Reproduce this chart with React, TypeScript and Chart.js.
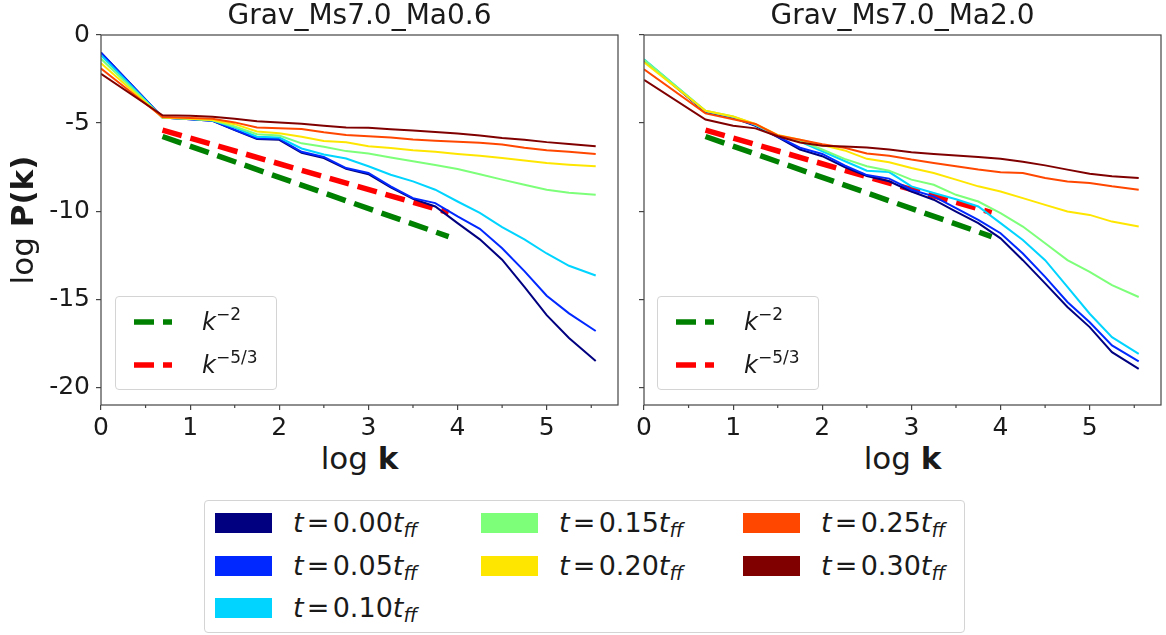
import React, { useEffect, useRef } from "react";
import { Chart, registerables } from "chart.js";

Chart.register(...registerables);

// ---------- data ----------
const LOG_K = [0, 0.69, 1.0, 1.25, 1.5, 1.75, 2.0, 2.25, 2.5, 2.75, 3.0, 3.25, 3.5, 3.75, 4.0, 4.25, 4.5, 4.75, 5.0, 5.25, 5.55];

const TIMES = ["0.00", "0.05", "0.10", "0.15", "0.20", "0.25", "0.30"];
const COLORS = ["#000080", "#0028ff", "#00d4ff", "#7dff7a", "#ffe600", "#ff4700", "#800000"];

// Grav_Ms7.0_Ma0.6
const MA06_T000 = [-1.0, -4.68, -4.78, -4.87, -5.4, -5.9, -5.95, -6.68, -6.98, -7.6, -7.9, -8.65, -9.3, -9.73, -10.68, -11.6, -12.75, -14.3, -15.9, -17.2, -18.5];
const MA06_T005 = [-1.0, -4.68, -4.78, -4.86, -5.38, -5.86, -5.9, -6.63, -6.92, -7.55, -7.83, -8.59, -9.26, -9.54, -10.3, -11.0, -12.1, -13.4, -14.8, -15.8, -16.8];
const MA06_T010 = [-1.15, -4.68, -4.77, -4.85, -5.25, -5.77, -5.82, -6.44, -6.78, -7.01, -7.45, -7.93, -8.31, -8.78, -9.45, -10.1, -10.9, -11.6, -12.4, -13.1, -13.65];
const MA06_T015 = [-1.35, -4.68, -4.76, -4.84, -5.19, -5.63, -5.71, -6.15, -6.34, -6.59, -6.73, -6.95, -7.17, -7.38, -7.6, -7.9, -8.21, -8.5, -8.78, -8.95, -9.07];
const MA06_T020 = [-1.6, -4.68, -4.75, -4.82, -5.06, -5.48, -5.57, -5.77, -6.02, -6.09, -6.31, -6.42, -6.54, -6.63, -6.75, -6.85, -6.98, -7.12, -7.26, -7.36, -7.45];
const MA06_T025 = [-1.9, -4.66, -4.71, -4.75, -4.96, -5.25, -5.29, -5.33, -5.52, -5.67, -5.74, -5.82, -5.93, -6.0, -6.06, -6.12, -6.22, -6.4, -6.54, -6.62, -6.75];
const MA06_T030 = [-2.2, -4.56, -4.58, -4.64, -4.75, -4.9, -4.96, -5.04, -5.15, -5.25, -5.27, -5.35, -5.42, -5.5, -5.59, -5.7, -5.84, -5.95, -6.08, -6.18, -6.31];

// Grav_Ms7.0_Ma2.0
const MA20_T000 = [-1.45, -4.38, -4.7, -5.15, -5.8, -6.5, -6.88, -7.49, -8.0, -8.3, -8.88, -9.35, -10.02, -10.68, -11.54, -12.78, -14.1, -15.44, -16.58, -18.0, -18.95];
const MA20_T005 = [-1.42, -4.35, -4.68, -5.12, -5.77, -6.4, -6.75, -7.4, -7.95, -8.15, -8.78, -9.16, -9.83, -10.49, -11.25, -12.4, -13.73, -15.15, -16.3, -17.62, -18.52];
const MA20_T010 = [-1.38, -4.32, -4.65, -5.1, -5.72, -6.05, -6.6, -7.15, -7.7, -7.78, -8.59, -8.97, -9.32, -9.73, -10.68, -11.63, -12.78, -14.3, -15.82, -17.15, -18.1];
const MA20_T015 = [-1.4, -4.3, -4.63, -5.08, -5.7, -6.0, -6.5, -7.03, -7.45, -7.7, -8.21, -8.5, -9.07, -9.45, -10.11, -10.87, -11.82, -12.78, -13.44, -14.2, -14.87];
const MA20_T020 = [-1.55, -4.3, -4.62, -5.05, -5.67, -5.95, -6.25, -6.55, -7.03, -7.22, -7.55, -7.83, -8.21, -8.59, -8.88, -9.26, -9.64, -10.02, -10.21, -10.59, -10.87];
const MA20_T025 = [-1.95, -4.45, -4.78, -5.05, -5.7, -5.95, -6.2, -6.4, -6.72, -6.85, -7.07, -7.26, -7.45, -7.64, -7.79, -7.83, -8.12, -8.31, -8.4, -8.59, -8.78];
const MA20_T030 = [-2.55, -4.8, -5.15, -5.3, -5.75, -6.1, -6.28, -6.33, -6.38, -6.5, -6.65, -6.75, -6.84, -6.92, -7.03, -7.2, -7.4, -7.64, -7.87, -8.02, -8.12];

// reference slopes
const REF_X = [0.69, 3.9];
const K2_Y = [-5.76, -11.44];
const K53_Y = [-5.4, -10.08];

const X_TICKS = [0, 1, 2, 3, 4, 5];
const X_MINOR = [0.5, 1.5, 2.5, 3.5, 4.5, 5.5];
const Y_TICKS = [0, -5, -10, -15, -20];

const MA06 = [MA06_T000, MA06_T005, MA06_T010, MA06_T015, MA06_T020, MA06_T025, MA06_T030];
const MA20 = [MA20_T000, MA20_T005, MA20_T010, MA20_T015, MA20_T020, MA20_T025, MA20_T030];

// ---------- style ----------
const FONT = "'DejaVu Sans', sans-serif";
const AX = "#444444";
const TXT = "#1a1a1a";

const framePlugin = {
  id: "frame",
  afterDraw(chart: any) {
    const { ctx, chartArea: a, scales } = chart;
    ctx.save();
    ctx.strokeStyle = AX;
    ctx.lineWidth = 1.2;
    ctx.strokeRect(a.left, a.top, a.right - a.left, a.bottom - a.top);
    const xs = scales.x;
    ctx.beginPath();
    for (const v of X_MINOR) {
      const px = xs.getPixelForValue(v);
      ctx.moveTo(px, a.bottom);
      ctx.lineTo(px, a.bottom + 3);
    }
    ctx.stroke();
    ctx.restore();
  },
};

function Panel(props: { left: number; width: number; yWidth: number; rightPad: number; series: number[][]; showY: boolean }) {
  const ref = useRef<HTMLCanvasElement>(null);
  useEffect(() => {
    const datasets: any[] = props.series.map((s, i) => ({
      label: "t = " + TIMES[i],
      data: LOG_K.map((x, j) => ({ x, y: s[j] })),
      borderColor: COLORS[i],
      backgroundColor: COLORS[i],
      borderWidth: 2,
      pointRadius: 0,
      tension: 0,
      fill: false,
      order: 10 - i,
    }));
    datasets.push({
      label: "k^-2",
      data: REF_X.map((x, j) => ({ x, y: K2_Y[j] })),
      borderColor: "#008000",
      borderWidth: 5.5,
      borderDash: [20, 9],
      pointRadius: 0,
      fill: false,
      order: 20,
    });
    datasets.push({
      label: "k^-5/3",
      data: REF_X.map((x, j) => ({ x, y: K53_Y[j] })),
      borderColor: "#ff0000",
      borderWidth: 5.5,
      borderDash: [20, 9],
      pointRadius: 0,
      fill: false,
      order: 20,
    });
    const chart = new Chart(ref.current as HTMLCanvasElement, {
      type: "line",
      data: { datasets },
      options: {
        animation: false,
        responsive: false,
        layout: { padding: { top: 35, right: props.rightPad, left: 0, bottom: 0 } },
        plugins: { legend: { display: false }, tooltip: { enabled: false } },
        scales: {
          x: {
            type: "linear",
            min: 0,
            max: 5.8,
            afterBuildTicks: (s: any) => {
              s.ticks = X_TICKS.map((v) => ({ value: v }));
            },
            afterFit: (s: any) => {
              s.height = 35;
            },
            grid: { display: true, drawOnChartArea: false, drawTicks: true, tickLength: 5, color: AX, lineWidth: 1.2 },
            border: { display: false },
            ticks: {
              font: { family: FONT, size: 25 },
              color: TXT,
              padding: 3,
              maxRotation: 0,
              autoSkip: false,
              callback: (v: any) => String(v),
            },
          },
          y: {
            type: "linear",
            min: -21,
            max: 0,
            afterBuildTicks: (s: any) => {
              s.ticks = Y_TICKS.map((v) => ({ value: v }));
            },
            afterFit: (s: any) => {
              s.width = props.yWidth;
            },
            grid: { display: true, drawOnChartArea: false, drawTicks: true, tickLength: 5, color: AX, lineWidth: 1.2 },
            border: { display: false },
            ticks: {
              font: { family: FONT, size: 25 },
              color: TXT,
              padding: 6,
              autoSkip: false,
              callback: (v: any) => (props.showY ? String(v) : ""),
            },
          },
        },
      },
      plugins: [framePlugin],
    } as any);
    return () => chart.destroy();
  }, []);
  return (
    <canvas
      ref={ref}
      width={props.width}
      height={440}
      style={{ position: "absolute", left: props.left, top: 0, width: props.width, height: 440 }}
    />
  );
}

function Sup(props: { children: any; size: number; rise: number }) {
  return (
    <span style={{ fontSize: props.size, position: "relative", top: -props.rise, fontStyle: "normal" }}>{props.children}</span>
  );
}

function InsetLegend(props: { left: number }) {
  const rows = [
    { color: "#008000", base: "k", sup: "\u22122" },
    { color: "#ff0000", base: "k", sup: "\u22125/3" },
  ];
  return (
    <div
      style={{
        position: "absolute",
        left: props.left,
        top: 296,
        width: 162,
        height: 94,
        border: "1px solid #d4d4d4",
        borderRadius: 4,
        background: "rgba(255,255,255,0.85)",
        boxSizing: "border-box",
      }}
    >
      {rows.map((r, i) => (
        <React.Fragment key={i}>
          <svg style={{ position: "absolute", left: 18, top: 22 + i * 43 }} width={38} height={6}>
            <line x1={0} y1={3} x2={38} y2={3} stroke={r.color} strokeWidth={5.5} strokeDasharray="20 9" />
          </svg>
          <div
            style={{
              position: "absolute",
              left: 86,
              top: 33 + i * 43 - 0.846 * 24,
              fontSize: 24,
              lineHeight: 1,
              fontFamily: FONT,
              color: TXT,
              whiteSpace: "nowrap",
            }}
          >
            <i>{r.base}</i>
            <Sup size={17} rise={10}>{r.sup}</Sup>
          </div>
        </React.Fragment>
      ))}
    </div>
  );
}

function BottomLegend() {
  const colX = [10, 276, 538];
  const rowY = [22, 65, 107];
  const order = [
    [0, 0], [0, 1], [0, 2],
    [1, 0], [1, 1],
    [2, 0], [2, 1],
  ];
  return (
    <div
      style={{
        position: "absolute",
        left: 204,
        top: 500,
        width: 761,
        height: 133,
        border: "1px solid #d4d4d4",
        borderRadius: 4,
        boxSizing: "border-box",
        background: "#fff",
      }}
    >
      {TIMES.map((t, i) => {
        const [c, r] = order[i];
        return (
          <React.Fragment key={t}>
            <div
              style={{
                position: "absolute",
                left: colX[c],
                top: rowY[r] - 10,
                width: 57,
                height: 20,
                background: COLORS[i],
              }}
            />
            <div
              style={{
                position: "absolute",
                left: colX[c] + 78,
                top: rowY[r] + 9 - 0.846 * 27,
                fontSize: 27,
                lineHeight: 1,
                fontFamily: FONT,
                color: TXT,
                whiteSpace: "nowrap",
              }}
            >
              <i>t</i>
              <span style={{ margin: "0 0.12em" }}>=</span>
              {t}
              <i>t</i>
              <span style={{ fontSize: 19, position: "relative", top: 5, fontStyle: "italic" }}>ff</span>
            </div>
          </React.Fragment>
        );
      })}
    </div>
  );
}

function CenterText(props: { cx: number; baseline: number; size: number; children: any }) {
  return (
    <div
      style={{
        position: "absolute",
        left: props.cx - 250,
        width: 500,
        top: props.baseline - 0.846 * props.size,
        textAlign: "center",
        fontSize: props.size,
        lineHeight: 1,
        fontFamily: FONT,
        color: TXT,
        whiteSpace: "nowrap",
      }}
    >
      {props.children}
    </div>
  );
}

export default function App() {
  const leftCx = (101 + 618) / 2;
  const rightCx = (644 + 1161) / 2;
  return (
    <div
      style={{
        position: "fixed",
        left: 0,
        top: 0,
        width: 1166,
        height: 635,
        background: "#ffffff",
        fontFamily: FONT,
        overflow: "hidden",
      }}
    >
      <Panel left={0} width={630} yWidth={101} rightPad={12} series={MA06} showY={true} />
      <Panel left={630} width={536} yWidth={14} rightPad={5} series={MA20} showY={false} />

      <CenterText cx={leftCx} baseline={25} size={28}>Grav_Ms7.0_Ma0.6</CenterText>
      <CenterText cx={rightCx} baseline={25} size={28}>Grav_Ms7.0_Ma2.0</CenterText>

      <CenterText cx={leftCx} baseline={469} size={31}>
        log <b>k</b>
      </CenterText>
      <CenterText cx={rightCx} baseline={469} size={31}>
        log <b>k</b>
      </CenterText>

      <div
        style={{
          position: "absolute",
          left: 21.6 - 150,
          top: 219.7 - 18,
          width: 300,
          height: 36,
          lineHeight: "36px",
          textAlign: "center",
          fontSize: 31,
          fontFamily: FONT,
          color: TXT,
          transform: "rotate(-90deg)",
          whiteSpace: "nowrap",
        }}
      >
        log <b>P(k)</b>
      </div>

      <InsetLegend left={115} />
      <InsetLegend left={657} />
      <BottomLegend />
    </div>
  );
}
